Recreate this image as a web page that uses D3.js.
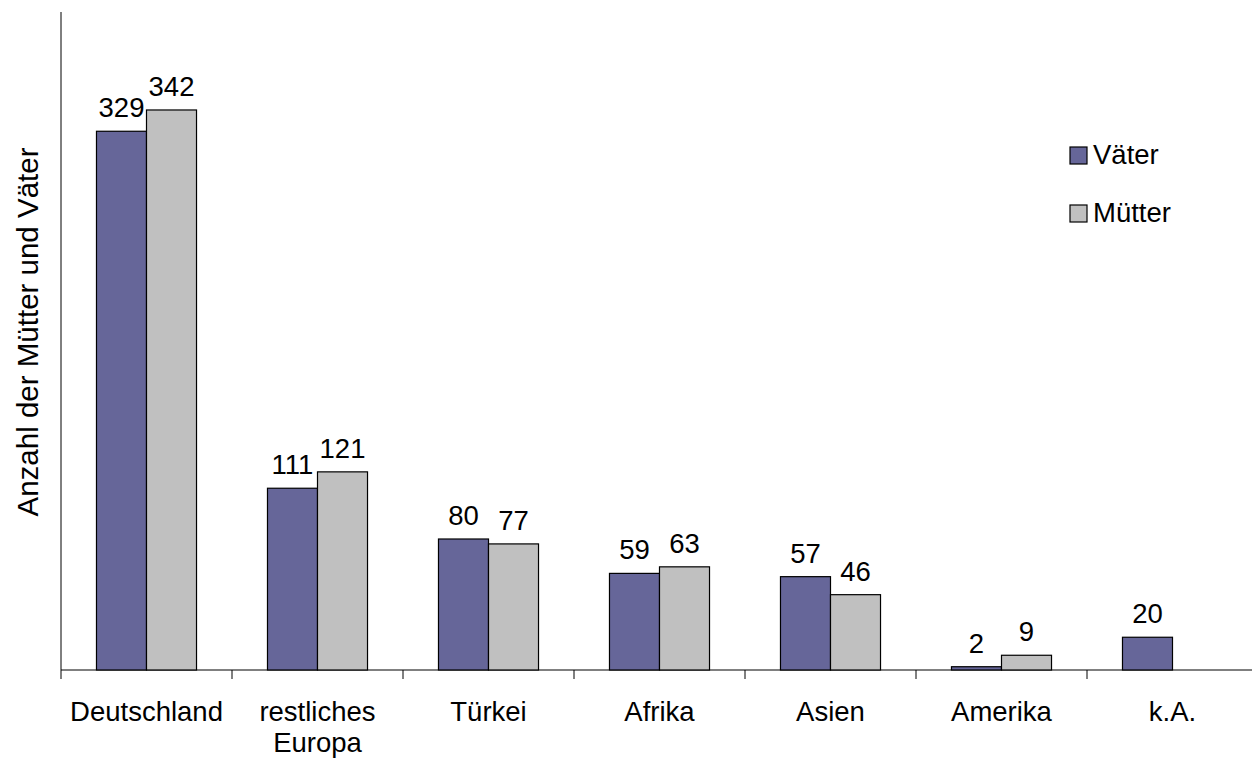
<!DOCTYPE html>
<html>
<head>
<meta charset="utf-8">
<script src="https://cdn.jsdelivr.net/npm/d3@7"></script>
<style>
  html, body { margin: 0; padding: 0; background: #fff; }
  svg { display: block; font-family: "Liberation Sans", Arial, sans-serif; }
</style>
</head>
<body>
<svg id="chart" width="1252" height="758"></svg>
<script>
// Herkunftsregionen der Eltern
const categories = [["Deutschland"], ["restliches", "Europa"], ["Türkei"], ["Afrika"], ["Asien"], ["Amerika"], ["k.A."]];
const seriesNames = ["Väter", "Mütter"];
const vaeter = [329, 111, 80, 59, 57, 2, 20];
const muetter = [342, 121, 77, 63, 46, 9, null];
const colors = ["#666699", "#C0C0C0"];
const yLabel = "Anzahl der Mütter und Väter";

const svg = d3.select("#chart");
const plotLeft = 61, plotBottom = 670, plotTop = 15;
const bandW = 171;
const labelSize = 27.5, titleSize = 29.5;

const x = d3.scaleBand()
  .domain(d3.range(categories.length))
  .range([plotLeft, plotLeft + bandW * categories.length])
  .paddingInner(0).paddingOuter(0);

const y = d3.scaleLinear().domain([0, 400]).range([plotBottom, plotTop]);

const groupW = bandW * 0.585;
const xs = d3.scaleBand().domain(seriesNames).range([0, groupW]);

const data = categories.map((c, i) => ({ i, values: [vaeter[i], muetter[i]] }));

// Achsen
svg.append("line").attr("x1", plotLeft).attr("x2", plotLeft).attr("y1", 12).attr("y2", plotBottom)
  .attr("stroke", "#000").attr("stroke-width", 1);
svg.append("line").attr("x1", plotLeft).attr("x2", 1252).attr("y1", plotBottom).attr("y2", plotBottom)
  .attr("stroke", "#000").attr("stroke-width", 1);

const ticks = d3.range(categories.length + 1).map(k => plotLeft + bandW * k);
svg.selectAll("line.tick").data(ticks).enter().append("line")
  .attr("class", "tick")
  .attr("x1", d => d).attr("x2", d => d)
  .attr("y1", plotBottom).attr("y2", plotBottom + 9)
  .attr("stroke", "#000").attr("stroke-width", 1);

// Balken mit Wertbeschriftung
const groups = svg.selectAll("g.grp").data(data).enter().append("g")
  .attr("class", "grp")
  .attr("transform", d => `translate(${x(d.i) + (bandW - groupW) / 2},0)`);

groups.each(function(d) {
  const g = d3.select(this);
  d.values.forEach((v, s) => {
    if (v == null) return;
    g.append("rect")
      .attr("x", xs(seriesNames[s]))
      .attr("y", y(v))
      .attr("width", xs.bandwidth())
      .attr("height", plotBottom - y(v))
      .attr("fill", colors[s])
      .attr("stroke", "#000").attr("stroke-width", 1.2);
    g.append("text")
      .attr("x", xs(seriesNames[s]) + xs.bandwidth() / 2)
      .attr("y", y(v) - 14)
      .attr("text-anchor", "middle")
      .attr("font-size", labelSize)
      .attr("fill", "#000")
      .text(v);
  });
});

// Kategorienbeschriftung
const catText = svg.selectAll("text.cat").data(categories).enter().append("text")
  .attr("class", "cat")
  .attr("text-anchor", "middle")
  .attr("font-size", labelSize)
  .attr("fill", "#000");
catText.each(function(lines, i) {
  const t = d3.select(this);
  lines.forEach((ln, k) => {
    t.append("tspan")
      .attr("x", x(i) + bandW / 2)
      .attr("y", 721 + k * 31)
      .text(ln);
  });
});

// y-Achsentitel
svg.append("text")
  .attr("transform", `translate(38,332) rotate(-90)`)
  .attr("text-anchor", "middle")
  .attr("font-size", titleSize)
  .attr("fill", "#000")
  .text(yLabel);

// Legende
const legend = svg.append("g").attr("transform", "translate(1070,147)");
seriesNames.forEach((n, s) => {
  const lg = legend.append("g").attr("transform", `translate(0,${s * 58})`);
  lg.append("rect").attr("x", 0).attr("y", 0).attr("width", 17).attr("height", 17)
    .attr("fill", colors[s]).attr("stroke", "#000").attr("stroke-width", 1.2);
  lg.append("text").attr("x", 23).attr("y", 16.5).attr("font-size", labelSize).attr("fill", "#000").text(n);
});
</script>
</body>
</html>
